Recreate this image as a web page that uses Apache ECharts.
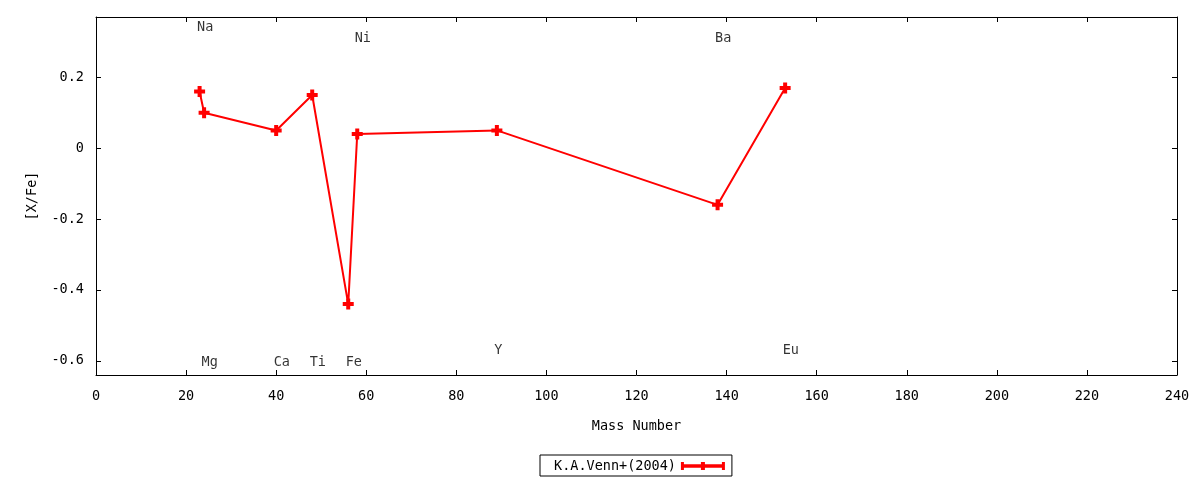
<!DOCTYPE html>
<html>
<head>
<meta charset="utf-8">
<script src="https://cdn.jsdelivr.net/npm/echarts@6/dist/echarts.min.js"></script>
<style>
html,body{margin:0;padding:0;background:#fff;}
#chart{width:1200px;height:480px;}
</style>
</head>
<body>
<div id="chart"></div>
<script>
// Data
var massNumbers = [23, 24, 40, 48, 56, 58, 89, 138, 153];
var xfeValues   = [0.16, 0.10, 0.05, 0.15, -0.44, 0.04, 0.05, -0.16, 0.17];
var seriesName  = 'K.A.Venn+(2004)';

var elementNames  = ['Na', 'Mg', 'Ca', 'Ti', 'Fe', 'Ni', 'Y', 'Ba', 'Eu'];
var elementLabelX = [23, 24, 40, 48, 56, 58, 89, 138, 153];
var elementLabelY = [0.34, -0.605, -0.605, -0.605, -0.605, 0.31, -0.57, 0.31, -0.57];

var yTicks = [-0.6, -0.4, -0.2, 0, 0.2];
var xMin = 0, xMax = 240, xStep = 20;
var yMin = -0.64, yMax = 0.37;

var FONT = 'DejaVu Sans Mono';
var points = massNumbers.map(function (m, i) { return [m, xfeValues[i]]; });
var labelPts = elementNames.map(function (n, i) { return { name: n, value: [elementLabelX[i], elementLabelY[i]] }; });

var plusPath = 'path://M3.5,0H7.5V3.5H11V7.5H7.5V11H3.5V7.5H0V3.5H3.5Z';
var legendIcon = 'path://M0,0H3V8H0Z M41,0H44V8H41Z M20,0H24V8H20Z M0,2.2H44V5.8H0Z';

var chart = echarts.init(document.getElementById('chart'));
var axisLine = { show: true, onZero: false, lineStyle: { color: '#000', width: 1 } };
chart.setOption({
  animation: false,
  backgroundColor: '#fff',
  grid: { left: 96, right: 23, top: 17, bottom: 105, containLabel: false },
  xAxis: [{
    type: 'value', min: xMin, max: xMax, interval: xStep, position: 'bottom',
    name: 'Mass Number', nameLocation: 'middle', nameGap: 44,
    nameTextStyle: { fontFamily: FONT, fontSize: 13.5, color: '#000' },
    axisLine: axisLine,
    axisTick: { show: true, inside: true, length: 5, lineStyle: { color: '#000' } },
    axisLabel: { fontFamily: FONT, fontSize: 13.5, color: '#000', margin: 14 },
    splitLine: { show: false }
  }, {
    type: 'value', min: xMin, max: xMax, interval: xStep, position: 'top',
    axisLine: axisLine,
    axisTick: { show: true, inside: true, length: 5, lineStyle: { color: '#000' } },
    axisLabel: { show: false },
    splitLine: { show: false }
  }],
  yAxis: [{
    type: 'value', min: yMin, max: yMax, position: 'left',
    name: '[X/Fe]', nameLocation: 'middle', nameGap: 57, nameRotate: 90,
    nameTextStyle: { fontFamily: FONT, fontSize: 13.5, color: '#000' },
    axisLine: axisLine,
    axisTick: { show: true, inside: true, length: 5, customValues: yTicks, lineStyle: { color: '#000' } },
    axisLabel: { fontFamily: FONT, fontSize: 13.5, color: '#000', margin: 12, customValues: yTicks },
    splitLine: { show: false }
  }, {
    type: 'value', min: yMin, max: yMax, position: 'right',
    axisLine: axisLine,
    axisTick: { show: true, inside: true, length: 5, customValues: yTicks, lineStyle: { color: '#000' } },
    axisLabel: { show: false, customValues: yTicks },
    splitLine: { show: false }
  }],
  legend: {
    left: 540, top: 455,
    align: 'right',
    orient: 'horizontal',
    data: [{ name: seriesName, icon: legendIcon }],
    itemWidth: 44, itemHeight: 8,
    borderColor: '#000', borderWidth: 1, borderRadius: 0,
    padding: [4, 7, 3, 14],
    textStyle: { fontFamily: FONT, fontSize: 13.5, color: '#000' },
    itemStyle: { color: '#ff0000' }
  },
  series: [{
    name: seriesName,
    type: 'line',
    xAxisIndex: 0, yAxisIndex: 0,
    data: points,
    symbol: plusPath,
    symbolSize: 11,
    showAllSymbol: true,
    lineStyle: { color: '#ff0000', width: 2 },
    itemStyle: { color: '#ff0000' },
    emphasis: { disabled: true }
  }, {
    name: 'labels',
    type: 'scatter',
    xAxisIndex: 0, yAxisIndex: 0,
    data: labelPts,
    symbolSize: 1,
    itemStyle: { color: 'rgba(0,0,0,0)' },
    label: {
      show: true, position: 'right', distance: 0, offset: [-3, 0],
      formatter: '{b}', fontFamily: FONT, fontSize: 13.5, color: '#000'
    },
    emphasis: { disabled: true },
    silent: true
  }]
});
</script>
</body>
</html>
